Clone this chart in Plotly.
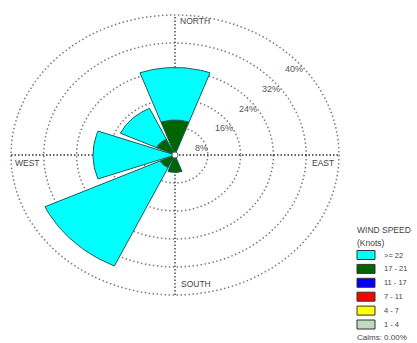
import numpy as np
import plotly.graph_objects as go

# ---- wind rose data (percent of observations) ----
directions = ["N", "NE", "E", "SE", "S", "SW", "W", "NW"]
direction_deg = [0, 45, 90, 135, 180, 225, 270, 315]

speed_bins = ["1 - 4", "4 - 7", "7 - 11", "11 - 17", "17 - 21", ">= 22"]
pct_1_4 = [0, 0, 0, 0, 0, 0, 0, 0]
pct_4_7 = [0, 0, 0, 0, 0, 0, 0, 0]
pct_7_11 = [0, 0, 0, 0, 0, 0, 0, 0]
pct_11_17 = [0, 0, 0, 0, 0, 0, 0, 0]
pct_17_21 = [10.0, 0, 0, 0, 5.0, 4.0, 0, 5.0]
pct_ge_22 = [15.0, 0, 0, 0, 0, 31.0, 20.0, 9.7]
bin_colors = ["#c0dcc0", "#ffff00", "#ff0000", "#0000ff", "#006400", "#00ffff"]
calms_pct = 0.0

ring_values = [8, 16, 24, 32, 40]

# legend rows are listed from the fastest bin downwards
legend_labels = [">= 22", "17 - 21", "11 - 17", "7 - 11", "4 - 7", "1 - 4"]
legend_colors = ["#00ffff", "#006400", "#0000ff", "#ff0000", "#ffff00", "#c0dcc0"]

W, H = 417, 343
FONT = "Liberation Sans, Arial, sans-serif"
SECTOR_WIDTH = 40.0


def wedge(theta_c, r0, r1, n=30):
    """Polygon of an annular sector, compass angle in degrees, radii in %."""
    t = np.radians(np.linspace(theta_c - SECTOR_WIDTH / 2, theta_c + SECTOR_WIDTH / 2, n))
    xo, yo = r1 * np.sin(t), r1 * np.cos(t)
    xi, yi = r0 * np.sin(t[::-1]), r0 * np.cos(t[::-1])
    xs = np.concatenate([xo, xi, xo[:1]])
    ys = np.concatenate([yo, yi, yo[:1]])
    return xs, ys


fig = go.Figure()

# ---- grid: dotted rings and compass cross ----
shapes = []
for r in ring_values:
    shapes.append(dict(type="circle", xref="x", yref="y", x0=-r, x1=r, y0=-r, y1=r,
                       line=dict(color="#7a7a7a", width=1.5, dash="1.5px,2.5px"), layer="below"))
rmax = ring_values[-1]
shapes.append(dict(type="line", xref="x", yref="y", x0=-rmax, x1=rmax, y0=0, y1=0,
                   line=dict(color="#303030", width=1.3, dash="1.5px,2px"), layer="below"))
shapes.append(dict(type="line", xref="x", yref="y", x0=0, x1=0, y0=-rmax, y1=rmax,
                   line=dict(color="#303030", width=1.3, dash="1.5px,2px"), layer="below"))

# ---- stacked wedges ----
series = [pct_1_4, pct_4_7, pct_7_11, pct_11_17, pct_17_21, pct_ge_22]
base = [0.0] * len(directions)
for name, vals, col in zip(speed_bins, series, bin_colors):
    for i, v in enumerate(vals):
        if v > 0:
            xs, ys = wedge(direction_deg[i], base[i], base[i] + v)
            fig.add_trace(go.Scatter(x=xs, y=ys, mode="lines", fill="toself",
                                     fillcolor=col, line=dict(color="#1d5a5a", width=1),
                                     name=name, showlegend=False, hoverinfo="skip"))
        base[i] += v

# calm circle at the centre
fig.add_trace(go.Scatter(x=[0], y=[0], mode="markers",
                         marker=dict(size=6, color="white", line=dict(color="#666", width=1)),
                         showlegend=False, hoverinfo="skip"))

annotations = []
# ring labels along the north-east diagonal
for r in ring_values:
    a = np.radians(45)
    annotations.append(dict(x=r * np.sin(a), y=r * np.cos(a), xref="x", yref="y",
                            text=f"{r}%", showarrow=False, xshift=3, yshift=-13,
                            font=dict(family=FONT, size=9, color="#555555")))

# compass labels
lab_font = dict(family=FONT, size=8.5, color="#444444")
annotations += [
    dict(x=0, y=rmax, xref="x", yref="y", text="NORTH", showarrow=False,
         xanchor="left", yanchor="middle", xshift=3, yshift=-6, font=lab_font),
    dict(x=0, y=-rmax, xref="x", yref="y", text="SOUTH", showarrow=False,
         xanchor="left", yanchor="middle", xshift=4, yshift=11, font=lab_font),
    dict(x=-rmax, y=0, xref="x", yref="y", text="WEST", showarrow=False,
         xanchor="left", yanchor="middle", xshift=2, yshift=-8, font=lab_font),
    dict(x=rmax, y=0, xref="x", yref="y", text="EAST", showarrow=False,
         xanchor="right", yanchor="middle", xshift=-3, yshift=-8, font=lab_font),
]

# ---- legend panel (paper coordinates) ----
def px(x):
    return x / W


def py(y):
    return 1 - y / H


leg_font = dict(family=FONT, size=8.5, color="#444444")
annotations.append(dict(x=px(355), y=py(230), xref="paper", yref="paper", text="WIND SPEED",
                        showarrow=False, xanchor="left", yanchor="middle", font=leg_font))
annotations.append(dict(x=px(355), y=py(243), xref="paper", yref="paper", text="(Knots)",
                        showarrow=False, xanchor="left", yanchor="middle", font=leg_font))
row_y0, row_step = 255, 13.9
for k, (lab, col) in enumerate(zip(legend_labels, legend_colors)):
    yc = row_y0 + k * row_step
    shapes.append(dict(type="rect", xref="paper", yref="paper",
                       x0=px(357), x1=px(375), y0=py(yc + 4.5), y1=py(yc - 4.5),
                       fillcolor=col, line=dict(color="#333333", width=1)))
    annotations.append(dict(x=px(382), y=py(yc), xref="paper", yref="paper", text=lab,
                            showarrow=False, xanchor="left", yanchor="middle",
                            font=dict(family=FONT, size=7.5, color="#444444")))
annotations.append(dict(x=px(355), y=py(337), xref="paper", yref="paper",
                        text=f"Calms: {calms_pct:.2f}%", showarrow=False,
                        xanchor="left", yanchor="middle",
                        font=dict(family=FONT, size=8, color="#444444")))

# axis ranges put the rose centre at (175, 155) px; 40% = 164 px wide, 140 px tall
cx, cy, sx, sy = 175, 155, 164 / 40, 140 / 40
fig.update_layout(
    width=W, height=H, margin=dict(l=0, r=0, t=0, b=0),
    paper_bgcolor="white", plot_bgcolor="white",
    xaxis=dict(range=[-cx / sx, (W - cx) / sx], visible=False, fixedrange=True),
    yaxis=dict(range=[-(H - cy) / sy, cy / sy], visible=False, fixedrange=True),
    shapes=shapes, annotations=annotations, showlegend=False,
)

fig.write_html("out.html")
